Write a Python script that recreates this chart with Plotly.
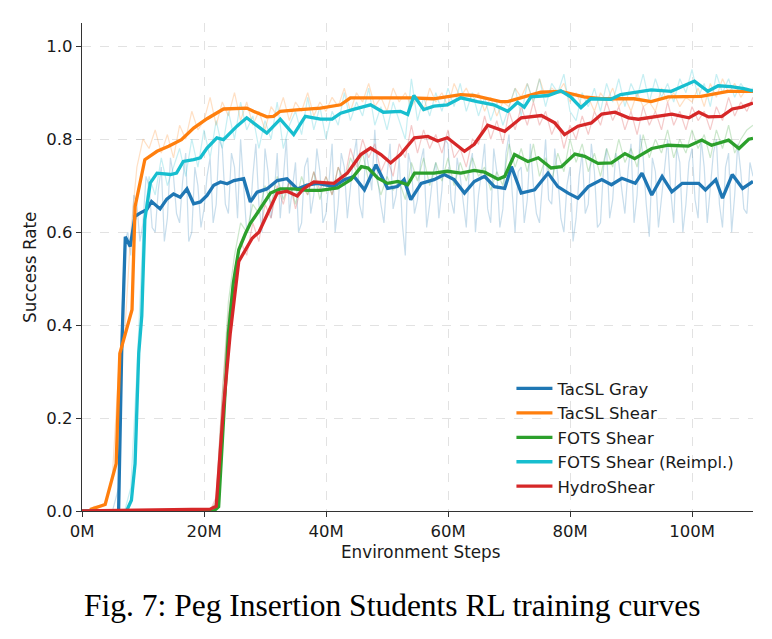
import plotly.graph_objects as go

# ---------------- data (x in millions of environment steps) ----------------
raw_x = list(range(0, 111))
half_x = [i + 0.5 for i in range(6, 110)]

gray_raw = [0, 0, 0, 0, 0, 0, 0.05, 0.58, 0.55, 0.66, 0.62, 0.70, 0.60, 0.74, 0.63, 0.72, 0.62, 0.77, 0.60, 0.70,
            0.65, 0.76, 0.66, 0.78, 0.64, 0.74, 0.80, 0.60, 0.72, 0.66, 0.78, 0.63, 0.77, 0.71, 0.64, 0.75, 0.62, 0.76, 0.68, 0.73,
            0.64, 0.79, 0.66, 0.74, 0.70, 0.80, 0.63, 0.74, 0.82, 0.66, 0.72, 0.65, 0.76, 0.55, 0.74, 0.67, 0.78, 0.66, 0.75, 0.69,
            0.79, 0.64, 0.72, 0.61, 0.77, 0.68, 0.79, 0.62, 0.73, 0.65, 0.81, 0.60, 0.74, 0.67, 0.70, 0.62, 0.80, 0.66, 0.72, 0.60,
            0.74, 0.63, 0.77, 0.66, 0.73, 0.62, 0.78, 0.67, 0.75, 0.64, 0.79, 0.68, 0.76, 0.59, 0.73, 0.67, 0.80, 0.62, 0.75, 0.66,
            0.78, 0.63, 0.74, 0.69, 0.80, 0.61, 0.77, 0.68, 0.73, 0.64, 0.72]
gray_raw_half = [0.40, 0.60, 0.68, 0.58, 0.72, 0.61, 0.69, 0.58, 0.76, 0.64, 0.71, 0.58, 0.74, 0.61, 0.72, 0.62, 0.80,
                 0.66, 0.77, 0.63, 0.71, 0.62, 0.79, 0.60, 0.73, 0.68, 0.63, 0.80, 0.69, 0.60, 0.74, 0.64, 0.78, 0.62, 0.71,
                 0.60, 0.77, 0.63, 0.76, 0.66, 0.78, 0.69, 0.71, 0.62, 0.79, 0.68, 0.62, 0.77, 0.64, 0.75, 0.61, 0.72, 0.63,
                 0.80, 0.67, 0.76, 0.66, 0.74, 0.60, 0.73, 0.65, 0.78, 0.61, 0.77, 0.69, 0.73, 0.62, 0.79, 0.64, 0.71, 0.67,
                 0.78, 0.63, 0.70, 0.58, 0.72, 0.64, 0.79, 0.61, 0.74, 0.63, 0.77, 0.69, 0.73, 0.62, 0.81, 0.66, 0.76, 0.61,
                 0.74, 0.69, 0.78, 0.60, 0.75, 0.67, 0.80, 0.62, 0.77, 0.66, 0.74, 0.60, 0.79, 0.65, 0.75]
shear_raw = [0, 0, 0.01, 0.01, 0.02, 0.08, 0.30, 0.38, 0.60, 0.74, 0.80, 0.78, 0.82, 0.77, 0.81, 0.76, 0.83, 0.80, 0.86, 0.82,
             0.84, 0.89, 0.83, 0.88, 0.85, 0.90, 0.84, 0.88, 0.83, 0.86, 0.82, 0.87, 0.85, 0.89, 0.84, 0.88, 0.86, 0.90, 0.85, 0.88,
             0.86, 0.89, 0.87, 0.91, 0.86, 0.90, 0.88, 0.92, 0.87, 0.89, 0.86, 0.91, 0.88, 0.90, 0.87, 0.89, 0.86, 0.91, 0.88, 0.90,
             0.87, 0.92, 0.89, 0.91, 0.88, 0.90, 0.86, 0.89, 0.85, 0.88, 0.87, 0.91, 0.89, 0.92, 0.88, 0.93, 0.89, 0.91, 0.90, 0.92,
             0.88, 0.90, 0.87, 0.89, 0.86, 0.90, 0.88, 0.91, 0.87, 0.89, 0.86, 0.90, 0.87, 0.88, 0.86, 0.91, 0.88, 0.90, 0.87, 0.89,
             0.88, 0.91, 0.87, 0.92, 0.89, 0.93, 0.90, 0.92, 0.89, 0.91, 0.90]
fots_raw = [0] * 22 + [0.02, 0.25, 0.45, 0.55, 0.62, 0.60, 0.66, 0.64,
            0.70, 0.66, 0.72, 0.67, 0.71, 0.66, 0.72, 0.68, 0.73, 0.67, 0.72, 0.68, 0.74, 0.70, 0.76, 0.73, 0.77, 0.71, 0.73, 0.68,
            0.72, 0.69, 0.71, 0.67, 0.75, 0.71, 0.76, 0.70, 0.75, 0.71, 0.76, 0.70, 0.75, 0.71, 0.76, 0.72, 0.74, 0.69, 0.73, 0.70,
            0.79, 0.74, 0.78, 0.73, 0.79, 0.72, 0.76, 0.71, 0.77, 0.73, 0.80, 0.75, 0.79, 0.73, 0.77, 0.72, 0.78, 0.74, 0.80, 0.75,
            0.78, 0.74, 0.81, 0.76, 0.80, 0.77, 0.82, 0.76, 0.80, 0.77, 0.82, 0.78, 0.81, 0.76, 0.82, 0.78, 0.83, 0.77, 0.80, 0.82,
            0.83]
reimpl_raw = [0] * 8 + [0.05, 0.30, 0.60, 0.72, 0.68, 0.76, 0.70, 0.74, 0.78, 0.72, 0.80, 0.74,
              0.82, 0.76, 0.84, 0.78, 0.86, 0.80, 0.88, 0.82, 0.85, 0.78, 0.84, 0.80, 0.88, 0.78, 0.83, 0.86, 0.81, 0.89, 0.82, 0.87,
              0.80, 0.86, 0.83, 0.90, 0.84, 0.88, 0.85, 0.91, 0.83, 0.87, 0.82, 0.88, 0.84, 0.80, 0.93, 0.84, 0.89, 0.85, 0.90, 0.86,
              0.91, 0.87, 0.92, 0.86, 0.90, 0.85, 0.89, 0.84, 0.88, 0.83, 0.87, 0.91, 0.85, 0.92, 0.88, 0.93, 0.87, 0.92, 0.90, 0.94,
              0.86, 0.84, 0.90, 0.87, 0.91, 0.86, 0.92, 0.88, 0.93, 0.87, 0.92, 0.89, 0.94, 0.88, 0.93, 0.89, 0.92, 0.88, 0.93, 0.90,
              0.95, 0.89, 0.92, 0.87, 0.94, 0.90, 0.93, 0.89, 0.92, 0.90, 0.91]
hydro_raw = [0] * 22 + [0.03, 0.25, 0.42, 0.52, 0.58, 0.55, 0.62, 0.58,
             0.66, 0.63, 0.70, 0.66, 0.71, 0.65, 0.70, 0.68, 0.73, 0.69, 0.72, 0.68, 0.74, 0.71, 0.78, 0.74, 0.80, 0.76, 0.79, 0.73,
             0.76, 0.72, 0.79, 0.76, 0.83, 0.77, 0.82, 0.78, 0.81, 0.77, 0.82, 0.76, 0.78, 0.74, 0.80, 0.79, 0.85, 0.80, 0.84, 0.79,
             0.86, 0.82, 0.87, 0.83, 0.88, 0.83, 0.86, 0.81, 0.84, 0.78, 0.83, 0.80, 0.85, 0.81, 0.86, 0.83, 0.88, 0.84, 0.87, 0.82,
             0.86, 0.81, 0.87, 0.83, 0.86, 0.82, 0.88, 0.83, 0.86, 0.82, 0.87, 0.84, 0.86, 0.82, 0.87, 0.84, 0.89, 0.85, 0.88, 0.86,
             0.89]

gray_sx = [0, 6.0, 6.5, 7.1, 7.9, 8.7, 9.5, 10.6, 11.4, 12.8, 13.9, 15.0, 16.1, 17.2, 18.3, 19.4, 20.5, 21.6, 22.7, 23.8,
           24.9, 26.5, 27.6, 28.7, 30.3, 32.0, 33.6, 35.3, 36.9, 38.6, 41.3, 43.0, 44.6, 46.3, 48.2, 50.1, 51.7, 52.8, 53.9,
           55.6, 57.7, 59.4, 61.0, 62.7, 64.3, 66.0, 67.6, 69.3, 70.4, 72.0, 74.2, 76.4, 78.0, 79.7, 81.3, 83.0, 85.2, 86.8,
           88.5, 90.7, 91.8, 93.4, 95.1, 96.7, 98.4, 101.1, 102.2, 103.9, 105.0, 106.6, 108.3, 110]
gray_sy = [0, 0, 0.34, 0.59, 0.569, 0.634, 0.641, 0.648, 0.666, 0.65, 0.671, 0.682, 0.675, 0.693, 0.661, 0.665, 0.679, 0.701,
           0.708, 0.704, 0.711, 0.715, 0.665, 0.686, 0.693, 0.711, 0.715, 0.693, 0.701, 0.705, 0.698, 0.713, 0.72, 0.691, 0.745,
           0.694, 0.698, 0.713, 0.67, 0.705, 0.713, 0.724, 0.713, 0.684, 0.709, 0.72, 0.698, 0.694, 0.741, 0.684, 0.691, 0.727,
           0.698, 0.684, 0.673, 0.698, 0.713, 0.702, 0.716, 0.705, 0.727, 0.68, 0.72, 0.687, 0.705, 0.705, 0.691, 0.713, 0.673,
           0.724, 0.694, 0.709]
shear_sx = [1.3, 3.8, 5.6, 6.2, 8.2, 8.7, 10.3, 12.3, 14.2, 16.3, 18.3, 20.5, 23.2, 27.0, 28.1, 30.3, 31.4, 32.5, 35.2,
            39.1, 42.4, 44.0, 53.9, 57.6, 62.1, 64.2, 68.6, 69.8, 75.2, 78.5, 82.3, 85.1, 90.5, 93.3, 96.1, 101.5, 105.9, 110]
shear_sy = [0.003, 0.014, 0.102, 0.339, 0.433, 0.655, 0.756, 0.774, 0.785, 0.799, 0.824, 0.844, 0.865, 0.867, 0.86, 0.848,
            0.849, 0.86, 0.863, 0.867, 0.874, 0.889, 0.889, 0.887, 0.896, 0.894, 0.881, 0.881, 0.901, 0.903, 0.891, 0.887,
            0.887, 0.881, 0.891, 0.892, 0.903, 0.903]
fots_sx = [0, 21.6, 22.4, 23.2, 24.0, 24.8, 25.7, 26.8, 27.6, 28.7, 29.8, 30.9, 32.5, 34.7, 36.9, 39.1, 41.9, 44.1, 45.8,
           46.9, 48.5, 50.1, 51.8, 53.4, 54.5, 57.7, 59.9, 62.1, 64.3, 66.0, 68.2, 69.3, 70.9, 73.1, 74.8, 76.9, 78.6, 80.8,
           82.4, 84.6, 86.8, 89.0, 90.6, 93.4, 96.1, 99.4, 101.6, 103.2, 106.0, 107.7, 109.3, 110]
fots_sy = [0, 0, 0.009, 0.203, 0.382, 0.49, 0.562, 0.597, 0.619, 0.64, 0.662, 0.684, 0.693, 0.693, 0.69, 0.69, 0.695, 0.713,
           0.741, 0.738, 0.716, 0.705, 0.709, 0.702, 0.727, 0.727, 0.731, 0.727, 0.733, 0.729, 0.714, 0.72, 0.767, 0.752, 0.76,
           0.738, 0.741, 0.768, 0.763, 0.748, 0.749, 0.769, 0.758, 0.78, 0.787, 0.785, 0.798, 0.787, 0.798, 0.78, 0.8, 0.802]
reimpl_sx = [0, 7.3, 8.1, 8.7, 9.3, 9.8, 10.3, 11.2, 12.3, 14.5, 15.5, 16.6, 18.3, 19.4, 20.5, 22.1, 23.2, 25.4, 27.0, 28.7,
             30.3, 32.5, 34.7, 36.6, 39.1, 41.0, 42.4, 44.5, 47.3, 49.4, 52.2, 53.4, 54.4, 56.0, 57.7, 59.9, 62.1, 64.8, 67.5,
             69.8, 71.4, 72.5, 73.6, 76.4, 78.5, 80.1, 81.8, 83.4, 86.7, 88.3, 90.5, 93.3, 96.6, 100.4, 102.6, 104.3, 106.4,
             108.5, 110]
reimpl_sy = [0, 0, 0.023, 0.102, 0.339, 0.42, 0.627, 0.706, 0.727, 0.724, 0.727, 0.752, 0.756, 0.76, 0.781, 0.803, 0.799,
             0.828, 0.846, 0.828, 0.813, 0.843, 0.81, 0.849, 0.843, 0.843, 0.856, 0.864, 0.874, 0.858, 0.86, 0.853, 0.894,
             0.864, 0.871, 0.874, 0.889, 0.881, 0.874, 0.86, 0.879, 0.869, 0.891, 0.894, 0.904, 0.891, 0.868, 0.887, 0.886,
             0.896, 0.901, 0.906, 0.903, 0.925, 0.903, 0.915, 0.913, 0.909, 0.904]
hydro_sx = [0, 21.0, 22.0, 23.2, 24.3, 25.7, 26.8, 27.9, 29.0, 30.3, 31.4, 32.0, 33.6, 35.3, 36.3, 38.0, 41.3, 43.5, 45.7,
            47.3, 49.0, 50.6, 52.2, 54.5, 56.7, 58.3, 59.9, 62.7, 64.3, 66.5, 69.3, 72.0, 75.3, 77.5, 79.1, 81.3, 83.5, 85.2,
            87.4, 89.6, 91.2, 94.0, 96.7, 99.5, 101.1, 102.7, 104.9, 106.6, 108.2, 110]
hydro_sy = [0, 0.004, 0.01, 0.224, 0.382, 0.537, 0.562, 0.587, 0.6, 0.636, 0.669, 0.684, 0.688, 0.678, 0.693, 0.708, 0.705,
            0.727, 0.767, 0.781, 0.767, 0.749, 0.767, 0.803, 0.806, 0.796, 0.803, 0.774, 0.789, 0.83, 0.817, 0.846, 0.851,
            0.835, 0.81, 0.828, 0.835, 0.854, 0.858, 0.846, 0.843, 0.849, 0.854, 0.846, 0.858, 0.848, 0.849, 0.865, 0.869,
            0.878]

names = ["TacSL Gray", "TacSL Shear", "FOTS Shear", "FOTS Shear (Reimpl.)", "HydroShear"]
colors = ["#1f77b4", "#ff7f0e", "#2ca02c", "#17becf", "#d62728"]
x_ticks = [0, 20, 40, 60, 80, 100]
x_tick_text = ["0M", "20M", "40M", "60M", "80M", "100M"]
y_ticks = [0.0, 0.2, 0.4, 0.6, 0.8, 1.0]
y_tick_text = ["0.0", "0.2", "0.4", "0.6", "0.8", "1.0"]

# merge the gray raw samples (integer and half steps) in x order
gray_pairs = sorted(zip(raw_x + half_x, gray_raw + gray_raw_half))
gray_rx = [p[0] for p in gray_pairs]
gray_ry = [p[1] for p in gray_pairs]

raws = [(gray_rx, gray_ry), (raw_x, shear_raw), (raw_x, fots_raw), (raw_x, reimpl_raw), (raw_x, hydro_raw)]
smooth = [(gray_sx, gray_sy), (shear_sx, shear_sy), (fots_sx, fots_sy), (reimpl_sx, reimpl_sy), (hydro_sx, hydro_sy)]

FONT = "DejaVu Sans"
TXT = "#1a1a1a"

fig = go.Figure()
for (rx, ry), c in zip(raws, colors):
    fig.add_trace(go.Scatter(x=rx, y=ry, mode="lines", line=dict(color=c, width=1.2),
                             opacity=0.24, showlegend=False, hoverinfo="skip"))
for (sx, sy), c, n in zip(smooth, colors, names):
    fig.add_trace(go.Scatter(x=sx, y=sy, mode="lines", name=n, line=dict(color=c, width=3.3)))

axis_common = dict(showline=True, linecolor="#333333", linewidth=1.3, ticks="outside", ticklen=5,
                   tickwidth=1.2, tickcolor="#333333", showgrid=True, gridcolor="#e2e2e2", gridwidth=1,
                   griddash="dash", zeroline=False, mirror=False,
                   tickfont=dict(family=FONT, size=16.5, color=TXT))

fig.update_layout(
    width=772, height=639,
    margin=dict(l=82, r=19, t=23, b=128),
    paper_bgcolor="white", plot_bgcolor="white",
    xaxis=dict(range=[0, 110], tickvals=x_ticks, ticktext=x_tick_text, **axis_common),
    yaxis=dict(range=[0, 1.05], tickvals=y_ticks, ticktext=y_tick_text, **axis_common),
    legend=dict(x=0.64, y=0.014, xanchor="left", yanchor="bottom", bgcolor="rgba(0,0,0,0)",
                font=dict(family=FONT, size=16.5, color=TXT), itemwidth=36),
    annotations=[
        dict(text="Environment Steps", x=0.504, y=-0.085, xref="paper", yref="paper", showarrow=False,
             xanchor="center", yanchor="middle", font=dict(family=FONT, size=16.8, color=TXT)),
        dict(text="Success Rate", x=-0.0775, y=0.5, xref="paper", yref="paper", showarrow=False,
             textangle=-90, xanchor="center", yanchor="middle", font=dict(family=FONT, size=16.8, color=TXT)),
        dict(text="Fig. 7: Peg Insertion Students RL training curves", x=0.462, y=-0.193, xref="paper",
             yref="paper", showarrow=False, xanchor="center", yanchor="middle",
             font=dict(family="Liberation Serif", size=31.5, color="#000000")),
    ],
)

fig.write_html("out.html")
